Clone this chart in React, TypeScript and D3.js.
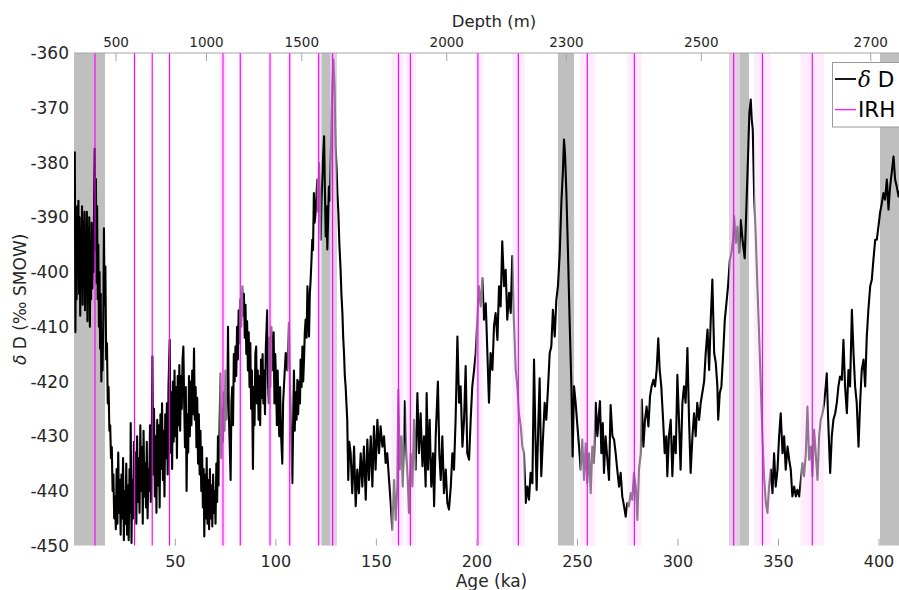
import React from 'react';
import * as d3 from 'd3';

const ageTicks = [50, 100, 150, 200, 250, 300, 350, 400];
const dDTicks = [-360, -370, -380, -390, -400, -410, -420, -430, -440, -450];
const depthTickLabels = [500, 1000, 1500, 2000, 2300, 2500, 2700];
const depthTickAges = [20.5, 65.5, 112.9, 185.0, 244.5, 311.6, 395.9];

// warm periods (grey bands), ka
const warmBands: [number, number][] = [
  [-0.5, 15], [122.6, 130.3], [240.3, 248.3], [325.4, 335.3], [400.5, 420],
];
// internal reflecting horizons: ages and age-uncertainty bands, ka
const irhAges = [10.05, 29.7, 38.5, 47.1, 73.7, 82.3, 97.1, 106.9, 121.3, 128.2, 161.0, 166.9, 200.5, 220.6, 254.9, 278.3, 327.7, 342.0, 366.8];
const irhBands: [number, number][] = [
  [71.9, 75.7], [81.8, 83.8], [96.2, 98.2], [105.7, 107.8], [120.3, 122.6], [126.9, 130.3],
  [157.4, 163.7], [164.5, 169.6], [199.4, 203.0], [217.6, 223.8], [251.3, 258.7],
  [274.8, 282.0], [325.4, 330.8], [337.8, 346.1], [361.0, 372.6],
];

// δD record (age ka, δD ‰)
const record: [number, number][] = [
  [0, -378], [0.3, -411], [0.6, -390], [0.9, -405], [1.2, -388], [1.5, -401], [1.8, -387], [2.1, -404],
  [2.4, -390], [2.7, -408], [3.0, -392], [3.3, -403], [3.6, -388], [3.9, -406], [4.2, -391], [4.5, -400],
  [4.8, -389], [5.1, -407], [5.4, -393], [5.7, -402], [6.0, -389], [6.3, -409], [6.6, -392], [6.9, -404],
  [7.2, -390], [7.5, -410], [7.8, -395], [8.1, -405], [8.4, -391], [8.7, -403], [9.0, -396], [9.3, -400],
  [9.6, -388], [9.9, -377.5], [10.2, -396], [10.5, -383], [10.8, -402], [11.1, -388], [11.4, -405],
  [11.7, -395], [12.0, -410], [12.3, -400], [12.6, -414], [12.9, -404], [13.2, -420], [13.5, -412],
  [13.8, -418], [14.2, -408], [14.5, -392], [14.8, -406], [15.2, -399], [15.6, -416], [16.0, -413],
  [16.4, -424], [16.8, -421], [17.2, -429], [17.6, -428], [18.0, -434], [18.4, -432], [18.8, -440],
  [19.2, -437], [19.6, -445],
  [20.0, -441], [20.4, -447], [20.8, -436], [21.2, -446], [21.6, -433], [22.0, -444], [22.4, -438],
  [22.8, -448], [23.2, -437], [23.6, -445], [24.0, -434], [24.4, -449], [24.8, -440], [25.2, -446],
  [25.6, -435], [26.0, -448], [26.4, -439], [26.8, -449], [27.2, -436], [27.6, -444], [27.8, -427.6],
  [28.2, -449.5], [28.6, -438], [29.0, -445], [29.4, -431], [29.8, -441], [30.2, -433], [30.6, -446],
  [31.0, -430], [31.4, -442], [31.8, -434], [32.2, -444], [32.6, -428], [33.0, -440], [33.4, -432],
  [33.8, -446], [34.2, -429], [34.6, -441], [35.0, -435], [35.4, -443], [35.8, -431], [36.2, -445],
  [36.6, -436], [37.0, -440], [37.4, -428], [37.8, -442], [38.2, -434], [38.6, -415.4], [39.0, -437],
  [39.4, -425], [39.8, -441], [40.2, -430], [40.6, -444], [41.0, -427], [41.4, -439], [41.8, -428],
  [42.2, -443], [42.6, -426], [43.0, -436], [43.4, -424], [43.8, -438], [44.2, -429], [44.6, -441],
  [45.0, -426], [45.4, -434], [45.8, -424], [46.2, -437], [46.6, -421], [47.2, -412.4], [47.6, -433],
  [48.0, -422], [48.4, -436], [48.8, -420], [49.2, -431], [49.6, -418], [50.0, -430], [50.4, -421],
  [50.8, -434], [51.2, -419], [51.6, -428], [52.0, -417], [52.4, -429], [52.8, -419], [53.2, -425],
  [53.6, -416], [54.0, -413.6], [54.4, -424], [54.8, -432], [55.2, -421], [55.6, -440], [56.0, -426],
  [56.4, -433], [56.8, -419], [57.2, -430], [57.6, -420], [58.0, -428], [58.4, -418], [58.8, -426],
  [59.3, -414], [59.7, -427], [60.1, -421], [60.5, -432], [60.9, -423], [61.3, -435], [61.7, -426],
  [62.1, -437], [62.5, -429], [62.9, -440], [63.3, -432], [63.7, -443], [64.1, -436], [64.4, -448.3],
  [64.8, -437], [65.2, -445], [65.6, -434], [66.0, -446], [66.4, -438], [66.8, -447], [67.2, -436],
  [67.6, -445], [68.0, -439], [68.4, -446.5], [68.8, -437], [69.2, -444], [69.6, -440], [70.0, -446],
  [70.4, -435], [70.8, -442], [71.2, -430], [71.6, -439], [72.0, -428], [72.5, -418.5], [72.9, -434],
  [73.3, -425], [73.7, -431], [74.1, -422], [74.5, -429], [74.9, -418], [75.3, -427], [75.7, -420],
  [76.2, -410], [76.6, -426], [77.0, -431], [77.5, -438], [77.9, -424], [78.3, -421], [78.7, -428],
  [79.1, -415], [79.5, -420], [79.9, -413.6], [80.3, -419], [80.7, -410], [81.1, -416], [81.5, -407],
  [81.9, -413], [82.3, -405], [82.8, -410], [83.3, -402.6], [83.7, -408], [84.1, -404], [84.5, -412],
  [84.9, -406], [85.3, -415], [85.7, -409], [86.1, -418], [86.5, -411], [86.9, -421], [87.3, -413],
  [87.7, -425], [88.1, -418], [88.6, -436], [89.0, -421], [89.4, -428], [89.8, -415], [90.2, -413.6],
  [90.6, -424], [91.0, -418], [91.4, -427], [91.8, -419], [92.2, -428], [92.6, -416], [93.0, -423],
  [93.4, -415], [93.8, -424], [94.2, -418], [94.6, -426], [95.0, -414], [95.7, -407], [96.1, -420],
  [96.5, -424], [96.9, -412], [97.3, -421], [97.7, -410], [98.1, -418], [98.5, -416], [98.9, -411],
  [99.3, -424], [99.7, -415], [100.1, -420], [100.5, -428], [100.9, -418], [101.3, -425], [101.7, -430],
  [102.1, -421], [102.5, -429], [103.2, -435], [103.6, -424], [104.0, -421],
  [104.9, -414.8], [105.7, -418], [106.5, -409.3], [107.0, -420], [107.4, -427], [108.2, -438.6],
  [108.7, -425], [109.0, -418], [109.4, -429], [109.8, -422], [110.3, -427], [110.7, -419.7],
  [111.1, -426], [111.5, -420], [112.0, -424], [112.3, -416], [112.8, -421], [113.2, -413.6],
  [113.6, -420], [114.0, -416], [114.4, -411], [114.8, -408.7], [115.3, -412], [115.7, -402.6],
  [116.1, -407], [116.5, -411.8], [116.9, -404], [117.3, -401.4], [117.7, -398], [118.1, -394.1],
  [118.5, -396], [118.9, -385.6], [119.3, -391], [119.8, -389.2], [120.2, -386], [120.6, -383.1],
  [121.0, -389], [121.5, -380.1], [121.9, -386], [122.3, -394.1], [122.7, -387], [123.1, -383.1],
  [123.5, -379], [124.0, -375.2], [124.4, -385], [124.8, -393.5], [125.2, -388], [125.6, -395.9],
  [126.0, -390], [126.4, -384.4], [126.9, -387], [127.3, -379.5], [127.7, -372], [128.1, -366.1],
  [128.6, -361.2], [129.2, -366.1], [129.7, -377.1], [130.2, -381], [130.6, -385.6], [131.1, -389.2],
  [131.6, -395], [132.2, -399.6], [132.6, -404], [133.1, -407.5], [133.5, -412], [133.9, -414.8],
  [134.3, -419], [134.7, -420.9], [135.1, -424], [135.5, -427], [136.0, -438], [136.5, -431],
  [137.2, -433.1], [138.0, -440.4], [138.9, -431.9], [139.7, -442.8], [140.5, -436.1], [141.3, -440.4],
  [142.2, -433.1], [143.0, -439.2], [143.8, -431.9], [144.7, -441.6], [145.5, -430.6], [146.3, -438.0],
  [147.2, -430.0], [148.0, -439.2], [148.8, -428.2], [149.6, -436.1], [150.5, -427.0], [151.3, -433.1],
  [152.1, -428.2], [153.0, -431.9], [153.8, -430.0], [154.6, -434.9], [155.4, -433.1], [156.3, -438.0],
  [157.1, -442.2], [157.9, -447.1], [158.8, -438.0], [159.6, -445.3], [160.4, -439.2], [160.9, -421.5],
  [161.6, -436.1], [162.4, -430.0], [163.1, -439.2], [164.1, -423.6], [164.9, -433.1], [165.6, -438.0],
  [166.2, -444.0], [167.1, -433.1], [167.9, -439.2], [168.7, -427.0], [169.5, -436.1], [170.4, -422.1],
  [171.2, -433.1], [172.0, -425.8], [172.9, -435.5], [173.7, -430.0], [174.5, -439.2], [175.0, -422.1],
  [175.7, -436.1], [176.5, -427.0], [177.3, -439.2], [178.2, -433.1], [178.7, -442.8], [179.5, -430.0],
  [180.6, -420.0], [181.3, -433.1], [182.0, -438.0], [182.8, -430.0], [183.6, -440.4], [184.5, -436.1],
  [185.3, -442.2], [186.1, -443.4], [187.0, -439.2], [187.8, -433.1], [188.6, -436.1], [189.4, -427.0],
  [190.3, -411.8], [191.1, -423.9], [191.9, -420.9], [192.8, -431.9], [193.6, -427.0], [194.4, -417.2],
  [195.2, -433.1], [196.1, -434.3], [196.9, -427.0], [197.7, -420.9], [198.6, -417.9], [199.4, -414.8],
  [200.2, -408.7], [201.0, -402.6], [201.9, -406.3], [202.7, -401.1], [203.5, -408.7], [204.4, -405.7],
  [205.2, -414.8], [206.0, -423.9], [206.8, -414.8], [207.7, -417.9], [208.5, -409.9],
  [209.3, -407.5], [210.2, -412.4], [211.0, -402.6], [211.8, -406.3], [212.6, -394.4], [213.5, -402.6],
  [214.3, -399.6], [215.1, -408.7], [216.0, -403.8], [216.8, -407.5], [217.6, -397.1], [218.4, -408.7],
  [219.3, -417.9], [220.1, -420.9], [220.9, -425.8], [221.8, -428.2], [222.6, -431.9], [223.4, -433.1],
  [224.3, -442.2], [225.1, -439.2], [225.9, -441.6], [226.7, -436.7], [227.6, -438.6], [228.4, -416.0],
  [229.1, -430.0], [229.7, -439.8], [230.6, -427.0], [231.2, -419.4], [232.0, -437.3], [232.9, -430.0],
  [233.7, -423.9], [234.5, -427.0], [235.4, -420.9], [236.2, -414.8], [237.0, -413.6], [237.8, -406.9],
  [238.7, -411.8], [239.5, -405.1], [240.3, -402.6], [241.2, -396.5], [242.0, -387.4], [242.8, -381.3],
  [243.3, -375.8], [243.8, -378.3], [244.5, -385.6], [245.3, -396.5], [246.1, -408.7], [247.0, -420.9],
  [247.6, -433.7], [248.3, -420.9], [249.1, -423.9], [250.0, -428.2], [250.8, -431.9], [251.6, -436.1],
  [252.4, -430.6], [253.3, -438.0], [254.1, -431.3], [254.9, -438.6], [255.8, -433.1], [256.6, -440.4],
  [257.4, -431.9], [258.2, -434.9], [259.1, -423.9], [259.9, -430.0], [260.7, -425.8], [261.2, -423.6],
  [261.9, -433.1], [262.6, -427.6], [263.2, -436.7], [264.0, -430.0], [264.9, -434.3], [265.7, -438.0],
  [266.5, -424.3], [267.4, -430.0], [268.2, -430.6], [269.0, -433.1], [269.8, -436.1], [270.7, -439.2],
  [271.5, -436.7], [272.3, -441.0], [273.2, -442.8], [274.0, -444.7], [274.8, -442.2], [275.6, -442.8],
  [276.5, -440.4], [277.3, -441.6], [278.1, -436.7], [279.0, -439.2], [279.8, -445.3], [280.6, -436.1],
  [281.5, -433.1], [282.0, -423.3], [282.8, -431.9], [283.6, -427.0], [284.4, -424.6], [285.3, -428.2],
  [286.1, -422.7], [286.9, -420.9], [287.8, -419.7], [288.6, -420.9], [289.4, -417.9], [290.2, -412.1],
  [290.9, -417.9], [291.7, -420.9], [292.6, -427.0], [293.4, -433.1], [294.2, -430.0], [294.7, -437.3],
  [295.5, -430.0], [296.4, -427.0], [297.2, -437.3], [298.0, -430.0], [298.9, -433.1], [299.7, -418.8],
  [300.5, -427.0], [301.3, -436.1], [302.2, -423.9], [303.0, -420.9], [303.8, -423.9], [304.7, -413.9],
  [305.5, -427.0], [306.3, -436.7], [307.2, -430.0], [308.0, -425.8], [308.8, -430.0], [309.6, -423.9],
  [310.5, -427.0], [311.3, -423.9], [312.1, -422.1], [313.0, -420.0],
  [313.8, -414.8], [314.7, -410.5], [315.5, -417.9], [316.3, -408.7], [317.1, -401.4], [318.0, -414.8],
  [318.8, -416.6], [319.6, -420.9], [320.0, -427.0], [320.8, -422.1], [321.6, -420.9], [322.5, -414.8],
  [323.3, -408.7], [324.1, -405.7], [324.9, -402.6], [325.8, -397.8], [326.6, -396.5], [327.4, -394.1],
  [327.9, -389.8], [328.8, -394.7], [329.6, -391.7], [330.4, -396.5], [331.2, -390.5], [332.1, -394.1],
  [333.2, -397.5], [334.1, -387.4], [334.9, -378.3], [335.5, -371.0], [336.2, -368.5], [336.7, -372.2],
  [337.2, -374.0], [337.9, -386.2], [338.7, -393.5], [339.5, -402.6], [340.4, -411.8], [341.2, -420.9],
  [342.0, -430.0], [342.8, -437.3], [343.7, -442.2], [344.5, -444.0], [345.3, -439.2], [346.2, -436.1],
  [347.0, -440.4], [347.8, -433.1], [348.6, -439.2], [349.5, -436.1], [350.3, -430.0], [351.1, -425.8],
  [352.0, -433.1], [352.8, -430.0], [353.6, -436.1], [354.5, -431.9], [355.3, -434.3], [356.1, -436.1],
  [356.9, -441.0], [357.8, -439.2], [358.6, -441.0], [359.4, -439.8], [360.3, -441.0], [361.1, -438.0],
  [361.9, -434.9], [362.7, -437.3], [363.6, -433.1], [364.4, -424.6], [365.2, -434.3], [366.1, -431.9],
  [366.9, -437.3], [367.7, -428.8], [368.5, -433.1], [369.4, -438.0], [370.2, -430.0], [371.0, -427.0],
  [371.9, -425.8], [372.7, -423.9], [373.5, -420.9], [374.0, -418.5], [374.7, -427.0], [375.7, -436.7],
  [376.5, -430.0], [377.3, -427.0], [378.2, -425.8], [379.0, -423.9], [379.8, -420.9], [380.6, -419.1],
  [381.5, -419.7], [382.3, -412.4], [383.1, -420.9], [384.0, -425.8], [384.8, -417.9], [385.6, -420.9],
  [386.5, -406.9], [387.3, -414.8], [388.1, -420.9], [388.9, -423.9], [389.8, -431.9], [390.6, -423.9],
  [391.4, -417.9], [392.3, -416.0], [393.1, -420.9], [393.9, -411.8], [394.7, -406.9], [395.6, -402.6],
  [396.4, -401.4], [397.2, -397.8], [398.1, -394.1], [398.9, -394.1], [399.7, -391.7], [400.5, -389.2],
  [401.4, -387.4], [402.2, -385.6], [403.0, -386.8], [403.9, -383.1], [404.7, -388.6], [405.5, -384.4],
  [406.3, -381.9], [407.2, -378.9], [408.0, -383.1], [408.8, -384.4], [409.7, -386.2], [410.5, -385.0],
  [411.3, -383.0],
];

const W = 899;
const H = 590;
const FONT = 'DejaVu Sans, sans-serif';
const TEXT = '#262626';
const AXIS = '#a6a6a6';

export default function App() {
  const x = d3.scaleLinear().domain([0, 416]).range([74.8, 911.2]);
  const y = d3.scaleLinear().domain([-450, -360]).range([545.7, 53]);
  const x1 = x.range()[1];
  const yTop = y(-360);
  const yBot = y(-450);
  const line = d3.line<[number, number]>().x(d => x(d[0])).y(d => y(d[1]));

  return (
    <svg width={W} height={H} style={{ position: 'absolute', left: 0, top: 0, background: '#fff' }} fontFamily={FONT}>
      <defs>
        <clipPath id="plot">
          <rect x={74} y={yTop} width={x1 - 74} height={yBot - yTop} />
        </clipPath>
      </defs>
      <g clipPath="url(#plot)">
        {warmBands.map(([a, b], i) => (
          <rect key={'w' + i} x={x(a)} y={yTop} width={x(b) - x(a)} height={yBot - yTop} fill="#bfbfbf" />
        ))}
        <path d={line(record) || ''} fill="none" stroke="#000" strokeWidth={2.1} strokeLinejoin="round" />
        {irhBands.map(([a, b], i) => (
          <rect key={'p' + i} x={x(a)} y={yTop} width={x(b) - x(a)} height={yBot - yTop} fill="rgb(255,220,255)" fillOpacity={0.55} />
        ))}
        {irhAges.map((a, i) => (
          <line key={'l' + i} x1={x(a)} x2={x(a)} y1={yTop} y2={yBot} stroke="#ff00ff" strokeWidth={1.2} />
        ))}
      </g>

      {/* top depth axis */}
      <line x1={74} x2={x1} y1={yTop} y2={yTop} stroke={AXIS} strokeWidth={1} />
      {depthTickAges.map((a, i) => (
        <g key={'dt' + i}>
          <line x1={x(a)} x2={x(a)} y1={yTop} y2={yTop + 8} stroke={AXIS} strokeWidth={1} />
          <text x={x(a)} y={46.5} textAnchor="middle" fontSize={13.5} fill={TEXT}>{depthTickLabels[i]}</text>
        </g>
      ))}
      <text x={494} y={27} textAnchor="middle" fontSize={16.5} fill={TEXT}>Depth (m)</text>

      {/* bottom age axis */}
      {ageTicks.map(t => (
        <g key={'at' + t}>
          <line x1={x(t)} x2={x(t)} y1={yBot} y2={yBot - 7} stroke={AXIS} strokeWidth={1} />
          <text x={x(t)} y={567} textAnchor="middle" fontSize={16} fill={TEXT}>{t}</text>
        </g>
      ))}
      <text x={491.5} y={587} textAnchor="middle" fontSize={17} fill={TEXT}>Age (ka)</text>

      {/* left axis */}
      {dDTicks.map(t => (
        <text key={'yt' + t} x={69} y={y(t)} dy="0.36em" textAnchor="end" fontSize={17} fill={TEXT}>{t}</text>
      ))}
      <text transform={`translate(26,${(yTop + yBot) / 2}) rotate(-90)`} textAnchor="middle" fontSize={17} fill={TEXT}>
        <tspan fontStyle="italic">δ</tspan> D (‰ SMOW)
      </text>

      {/* legend */}
      <rect x={832.5} y={62.5} width={100} height={64.5} fill="#fff" stroke="#999" strokeWidth={1} />
      <line x1={835} x2={856} y1={79} y2={79} stroke="#000" strokeWidth={1.8} />
      <text x={858} y={87} fontSize={21.5} fill="#000"><tspan fontStyle="italic" fontFamily="DejaVu Serif, serif">δ</tspan> D</text>
      <line x1={835} x2={856} y1={109.7} y2={109.7} stroke="#ff00ff" strokeWidth={1.2} />
      <text x={858} y={117} fontSize={21.5} fill="#000">IRH</text>
    </svg>
  );
}
